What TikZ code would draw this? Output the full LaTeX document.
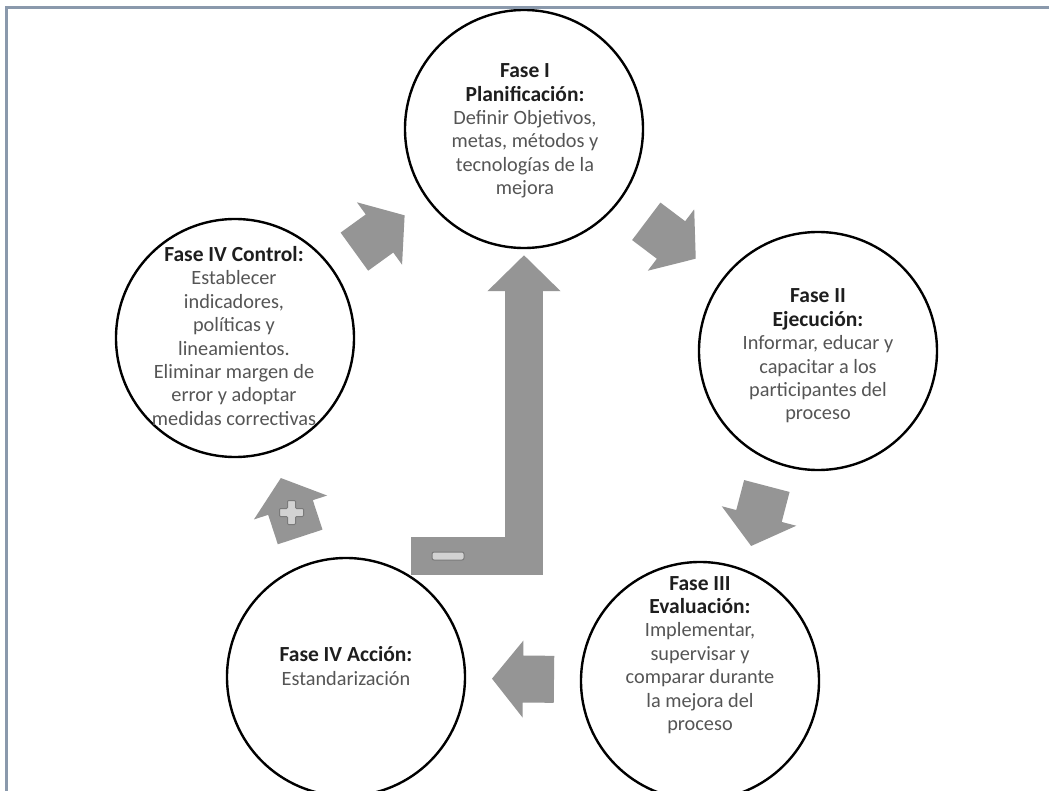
\documentclass[tikz,border=0pt]{standalone}
\usepackage{fontspec}
\setmainfont{Carlito}
\usetikzlibrary{calc,arrows.meta}
\definecolor{arrowgray}{HTML}{959595}
\definecolor{headgray}{HTML}{1E1E1E}
\definecolor{bodygray}{HTML}{555555}
\definecolor{framecol}{HTML}{8A99AC}
\definecolor{signfill}{HTML}{D2D2D2}
\definecolor{signline}{HTML}{7A7A7A}
\newcommand\phasehead[1]{\textcolor{headgray}{\fontsize{21.5}{23.4}\selectfont\bfseries #1}}
\tikzset{
 phase/.style={circle,draw=black,line width=2.4pt,minimum size=238pt,inner sep=0pt},
 txt/.style={align=center,text=bodygray,font=\fontsize{20.3}{23.4}\selectfont,inner sep=0pt},
 blockarrow/.pic={\fill[arrowgray] (-31,-23.5) -- (0,-23.5) -- (0,-38.5) -- (31,0) -- (0,38.5) -- (0,23.5) -- (-31,23.5) -- cycle;},
 plussign/.pic={\filldraw[fill=signfill,draw=signline,line width=1pt,rounded corners=1pt] (-4,-12) -- (4,-12) -- (4,-4) -- (12,-4) -- (12,4) -- (4,4) -- (4,12) -- (-4,12) -- (-4,4) -- (-12,4) -- (-12,-4) -- (-4,-4) -- cycle;},
 bigarrow/.style={draw=arrowgray,line width=38pt,line join=miter,-{Triangle[width=71pt,length=36pt]}},
 signbox/.style={draw=signline,fill=signfill,rounded corners=2pt,line width=1pt,inner sep=0pt},
}
\begin{document}
\begin{tikzpicture}[x=1pt,y=-1pt]
\clip (0,0) rectangle (1049,791);
\fill[white] (0,0) rectangle (1049,791);

% circles
\node[phase] (c1) at (524,129) {};
\node[phase] (c2) at (818,351) {};
\node[phase] (c3) at (700,681) {};
\node[phase] (c4) at (346,677) {};
\node[phase] (c5) at (235,338) {};

% texts
\node[txt] (t1) at (525,131) {\phasehead{Fase I}\\\phasehead{Planificación:}\\Definir Objetivos,\\metas, métodos y\\tecnologías de la\\mejora};
\node[txt] (t2) at (818,356) {\phasehead{Fase II}\\\phasehead{Ejecución:}\\Informar, educar y\\capacitar a los\\participantes del\\proceso};
\node[txt] (t3) at (700,655) {\phasehead{Fase III}\\\phasehead{Evaluación:}\\Implementar,\\supervisar y\\comparar durante\\la mejora del\\proceso};
\node[txt] (t4) at (346,666) {\phasehead{Fase IV Acción:}\\Estandarización};
\node[txt] (t5) at (234,336) {\phasehead{Fase IV Control:}\\Establecer\\indicadores,\\políticas y\\lineamientos.\\Eliminar margen de\\error y adoptar\\medidas correctivas};

% cycle arrows
\path let \p1=($(c1)-(c5)$), \n1={atan2(\y1,\x1)} in ($(c5)!0.5!(c1)$) pic[rotate=\n1]{blockarrow};
\path let \p1=($(c2)-(c1)$), \n1={atan2(\y1,\x1)} in ($(c1)!0.5!(c2)$) pic[rotate=\n1]{blockarrow};
\path let \p1=($(c3)-(c2)$), \n1={atan2(\y1,\x1)} in ($(c2)!0.5!(c3)$) pic[rotate=\n1+5]{blockarrow};
\path let \p1=($(c4)-(c3)$), \n1={atan2(\y1,\x1)} in ($(c3)!0.5!(c4)$) pic[rotate=\n1]{blockarrow};
\path let \p1=($(c5)-(c4)$), \n1={atan2(\y1,\x1)} in ($(c4)!0.5!(c5)$) pic[rotate=\n1]{blockarrow};
\path ($(c4)!0.5!(c5)$) ++(1,5) pic{plussign};

% big L arrow
\coordinate (ltail) at (411,555.5);
\draw[bigarrow] (ltail) -| ([yshift=-6pt]c1.south);
\node[signbox,minimum width=32pt,minimum height=8pt] (minus) at (448,556) {};

% frame
\draw[framecol,line width=3pt] (6,791) -- (6,8) -- (1049,8);
\end{tikzpicture}
\end{document}
